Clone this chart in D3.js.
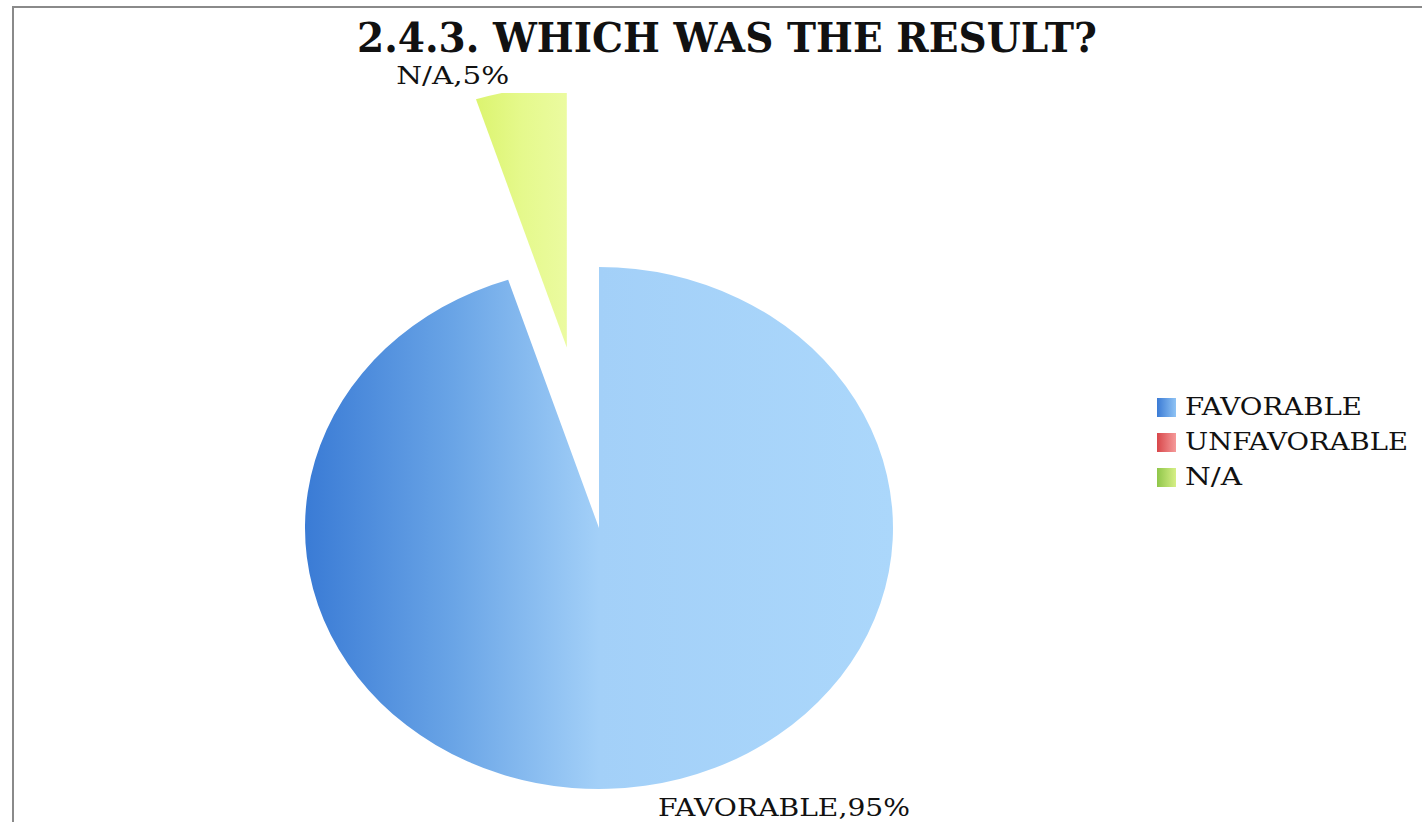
<!DOCTYPE html>
<html>
<head>
<meta charset="utf-8">
<script src="https://cdn.jsdelivr.net/npm/d3@7"></script>
<style>
  html, body { margin: 0; padding: 0; background: #fff; }
  svg { display: block; }
  text { font-family: "DejaVu Serif", "Liberation Serif", serif; fill: #111; }
</style>
</head>
<body>
<svg id="chart" width="1422" height="822"></svg>
<script>
// Survey answers for question 2.4.3
const categories = ["FAVORABLE", "UNFAVORABLE", "N/A"];
const values = [95, 0, 5];
const percentLabels = ["95%", "0%", "5%"];
const titleText = "2.4.3. WHICH WAS THE RESULT?";

const W = 1422, H = 822;
const svg = d3.select("#chart");

// Squeeze or widen a text run to a set width (Cambria-like proportions)
function fitWidth(sel, width) {
  sel.attr("textLength", width).attr("lengthAdjust", "spacingAndGlyphs");
  return sel;
}

// Outer frame (only top and left edges fall inside the view)
svg.append("path")
  .attr("d", `M13,${H} L13,7 L${W},7`)
  .attr("fill", "none")
  .attr("stroke", "#8a8a8a")
  .attr("stroke-width", 2);

const defs = svg.append("defs");

// Slice fills: horizontal shading, darker on the left
const gradients = [
  { id: "g-fav", stops: [[0, "#3a7bd5"], [0.25, "#69a4e6"], [0.5, "#a3d0f8"], [1, "#abd7fb"]] },
  { id: "g-unf", stops: [[0, "#d9474a"], [0.5, "#f07a7b"], [1, "#f7a6a6"]] },
  { id: "g-na",  stops: [[0, "#dcf46f"], [0.5, "#e5f98c"], [1, "#ebfba0"]] }
];
const legendGradients = [
  { id: "lg-fav", stops: [[0, "#3b7bd5"], [1, "#8fc3f4"]] },
  { id: "lg-unf", stops: [[0, "#d8474a"], [1, "#f59a9a"]] },
  { id: "lg-na",  stops: [[0, "#8fc64a"], [1, "#d6ef86"]] }
];
gradients.concat(legendGradients).forEach(g => {
  const lg = defs.append("linearGradient").attr("id", g.id)
    .attr("x1", 0).attr("y1", 0).attr("x2", 1).attr("y2", 0);
  g.stops.forEach(([o, c]) => lg.append("stop").attr("offset", o).attr("stop-color", c));
});
const fills = ["url(#g-fav)", "url(#g-unf)", "url(#g-na)"];
const legendFills = ["url(#lg-fav)", "url(#lg-unf)", "url(#lg-na)"];

// Plot area clip: exploded slices are cut at its top edge
defs.append("clipPath").attr("id", "plot-clip")
  .append("rect").attr("x", 0).attr("y", 93).attr("width", W).attr("height", H - 93);

// Title
fitWidth(svg.append("text")
  .attr("x", 727).attr("y", 52)
  .attr("text-anchor", "middle")
  .attr("font-weight", "bold")
  .attr("font-size", 41)
  .text(titleText), 740);

// Pie (drawn as a circle, stretched horizontally into an ellipse)
const cx = 599, cy = 528, rx = 294, ry = 261;
const explode = [0, 0, 0.70];

const pie = d3.pie().sort(null).value(d => d);
const arcs = pie(values);
const arc = d3.arc().innerRadius(0).outerRadius(ry);

const plot = svg.append("g").attr("clip-path", "url(#plot-clip)");
const pieG = plot.append("g")
  .attr("transform", `translate(${cx},${cy}) scale(${rx / ry},1)`);

pieG.selectAll("path.slice")
  .data(arcs)
  .join("path")
  .attr("class", "slice")
  .attr("d", arc)
  .attr("fill", (d, i) => fills[i])
  .attr("transform", (d, i) => {
    const mid = (d.startAngle + d.endAngle) / 2;
    const off = explode[i] * ry;
    return `translate(${off * Math.sin(mid)},${-off * Math.cos(mid)})`;
  });

// Data labels, placed off the outer end of each slice
const labelFont = 25;
const labelOffsets = [[139, 24], null, [-68, -12]];
const labelWidths = [252, 0, 113];
arcs.forEach((d, i) => {
  if (!labelOffsets[i] || d.value === 0) return;
  const mid = (d.startAngle + d.endAngle) / 2;
  const r = ry * (1 + explode[i]);
  const px = cx + (rx / ry) * r * Math.sin(mid);
  const py = cy - r * Math.cos(mid);
  fitWidth(svg.append("text")
    .attr("x", px + labelOffsets[i][0])
    .attr("y", py + labelOffsets[i][1])
    .attr("text-anchor", "middle")
    .attr("dominant-baseline", "middle")
    .attr("font-size", labelFont)
    .text(`${categories[i]},${percentLabels[i]}`), labelWidths[i]);
});

// Legend
const legendWidths = [177, 223, 57];
const legend = svg.append("g").attr("transform", "translate(1157,398)");
const legendRow = legend.selectAll("g")
  .data(categories)
  .join("g")
  .attr("transform", (d, i) => `translate(0,${i * 35})`);
legendRow.append("rect")
  .attr("width", 19).attr("height", 19)
  .attr("fill", (d, i) => legendFills[i]);
legendRow.append("text")
  .attr("x", 28).attr("y", 10)
  .attr("dominant-baseline", "middle")
  .attr("font-size", 25)
  .attr("textLength", (d, i) => legendWidths[i])
  .attr("lengthAdjust", "spacingAndGlyphs")
  .text(d => d);
</script>
</body>
</html>
